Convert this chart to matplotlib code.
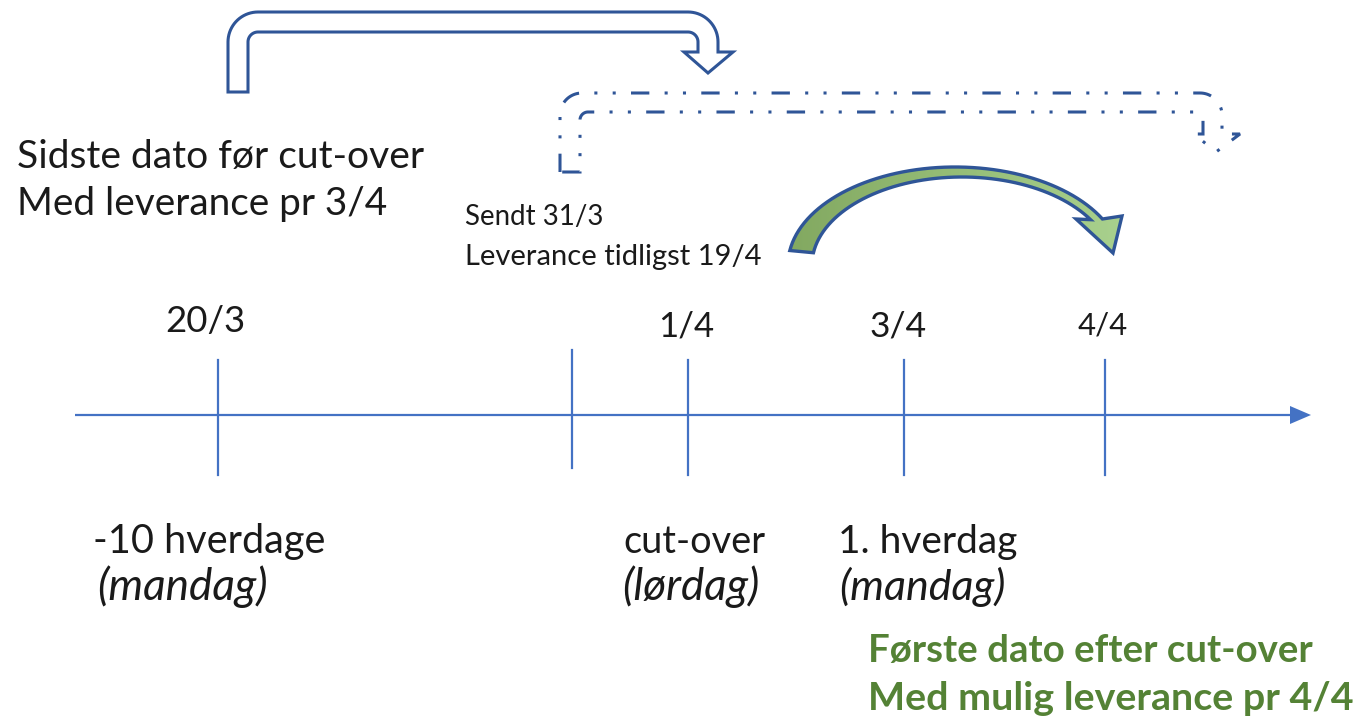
import numpy as np
import matplotlib
matplotlib.use("Agg")
import matplotlib.pyplot as plt
from matplotlib.path import Path
from matplotlib.patches import PathPatch, Polygon

# ---- content ----
date_labels = ["20/3", "", "1/4", "3/4", "4/4"]
day_labels = ["-10 hverdage", "", "cut-over", "1. hverdag", ""]
weekday_labels = ["(mandag)", "", "(lørdag)", "(mandag)", ""]
left_note = ["Sidste dato før cut-over", "Med leverance pr 3/4"]
sent_note = ["Sendt 31/3", "Leverance tidligst 19/4"]
green_note = ["Første dato efter cut-over", "Med mulig leverance pr 4/4"]

# timeline tick positions (pixels)
tick_x = [218, 572, 688, 904, 1105]
tick_top = [360, 350, 360, 360, 360]
tick_bot = [475, 468, 475, 475, 475]

FONT = "Lato"
BLUE = "#4472C4"
DARK = "#2F5597"
TXT = "#1a1a1a"
GREEN = "#548235"

fig = plt.figure(figsize=(13.6, 7.21), dpi=100)
ax = fig.add_axes([0, 0, 1, 1])
ax.set_xlim(0, 1360)
ax.set_ylim(721, 0)
ax.axis("off")
renderer = fig.canvas.get_renderer()


def place(s, x, y, width, ha="left", **kw):
    t = ax.text(x, y, s, ha=ha, va="baseline", family=FONT, fontsize=20, **kw)
    w = t.get_window_extent(renderer).width
    t.set_fontsize(20 * width / w)
    return t


def arc(cx, cy, r, a0, a1, n=20):
    a = np.radians(np.linspace(a0, a1, n))
    return list(zip(cx + r * np.cos(a), cy - r * np.sin(a)))


def bent_arrow(xl, xr, ybot, yo, yi, sxo, sxi, ywing, wl, wr, tip, ro, ri):
    pts = [(xl, ybot), (xl, yo + ro)]
    pts += arc(xl + ro, yo + ro, ro, 180, 90)
    pts += [(sxo - ro, yo)]
    pts += arc(sxo - ro, yo + ro, ro, 90, 0)
    pts += [(sxo, ywing), (wr, ywing), tip, (wl, ywing), (sxi, ywing)]
    pts += arc(sxi - ri, yi + ri, ri, 0, 90)
    pts += [(xr + ri, yi)]
    pts += arc(xr + ri, yi + ri, ri, 90, 180)
    pts += [(xr, ybot), (xl, ybot)]
    return pts


# ---- timeline ----
ax.plot([75, 1292], [415, 415], color=BLUE, lw=1.6, solid_capstyle="butt")
ax.add_patch(Polygon([(1290, 406), (1311, 415), (1290, 424)], closed=True,
                     color=BLUE, lw=0))
for x, t0, t1 in zip(tick_x, tick_top, tick_bot):
    ax.plot([x, x], [t0, t1], color=BLUE, lw=1.6)

# ---- labels ----
date_w = [80, 0, 56, 57, 50]
date_fs_base = [332, 0, 336, 336, 335]
for lab, x, w, yb in zip(date_labels, tick_x, date_w, date_fs_base):
    if lab:
        place(lab, x - 13 if lab == "20/3" else x - 2 if lab != "3/4" else x - 6,
              yb, w, ha="center", color=TXT)

place(day_labels[0], 93, 553, 233, color=TXT)
place(weekday_labels[0], 97, 600, 170, color=TXT, style="italic")
place(day_labels[2], 623, 553, 142, color=TXT)
place(weekday_labels[2], 622, 600, 137, color=TXT, style="italic")
place(day_labels[3], 838, 553, 180, color=TXT)
place(weekday_labels[3], 839, 600, 166, color=TXT, style="italic")

place(left_note[0], 17, 168, 408, color=TXT)
place(left_note[1], 17, 215, 371, color=TXT)
place(sent_note[0], 465, 225, 138, color=TXT)
place(sent_note[1], 465, 265, 297, color=TXT)
place(green_note[0], 868, 662, 445, color=GREEN, weight="bold")
place(green_note[1], 868, 710, 485, color=GREEN, weight="bold")

# ---- top hollow bent arrow ----
p1 = bent_arrow(228, 248, 92, 12, 32, 718, 698, 52, 684, 733, (708, 73), 30, 10)
ax.add_patch(Polygon(p1, closed=True, facecolor="white", edgecolor=DARK,
                     lw=2.2, joinstyle="miter"))

# ---- dash-dot bent arrow ----
p2 = bent_arrow(560, 580, 172, 93, 112, 1222, 1203, 134, 1194, 1240, (1216, 152), 22, 8)
ax.add_patch(Polygon(p2, closed=True, facecolor="none", edgecolor=DARK,
                     lw=2.2, linestyle=(0, (6, 5, 1, 5, 1, 5))))

# ---- green curved arrow ----
def ell(cx, cy, a, b, t0, t1, n=60):
    t = np.radians(np.linspace(t0, t1, n))
    return list(zip(cx + a * np.cos(t), cy - b * np.sin(t)))

outer = ell(955, 265, 167, 98, 171.5, 28)
inner = ell(962, 265, 150, 88, 31, 172)
gp = outer + [(1122, 216), (1113, 253), (1076, 219)] + inner
gpoly = Polygon(gp, closed=True, facecolor="none", edgecolor=DARK, lw=2.4, zorder=4)
grad = np.linspace(0, 1, 256).reshape(1, -1)
from matplotlib.colors import LinearSegmentedColormap
cmap = LinearSegmentedColormap.from_list("g", ["#82A860", "#A9D18E"])
im = ax.imshow(grad, cmap=cmap, extent=[785, 1125, 255, 165], aspect="auto", zorder=3)
clip = Polygon(gp, closed=True, transform=ax.transData, facecolor="none", lw=0)
ax.add_patch(clip)
im.set_clip_path(clip)
ax.add_patch(gpoly)
ax.set_xlim(0, 1360)
ax.set_ylim(721, 0)

fig.savefig("out.png", dpi=100, facecolor="white")
